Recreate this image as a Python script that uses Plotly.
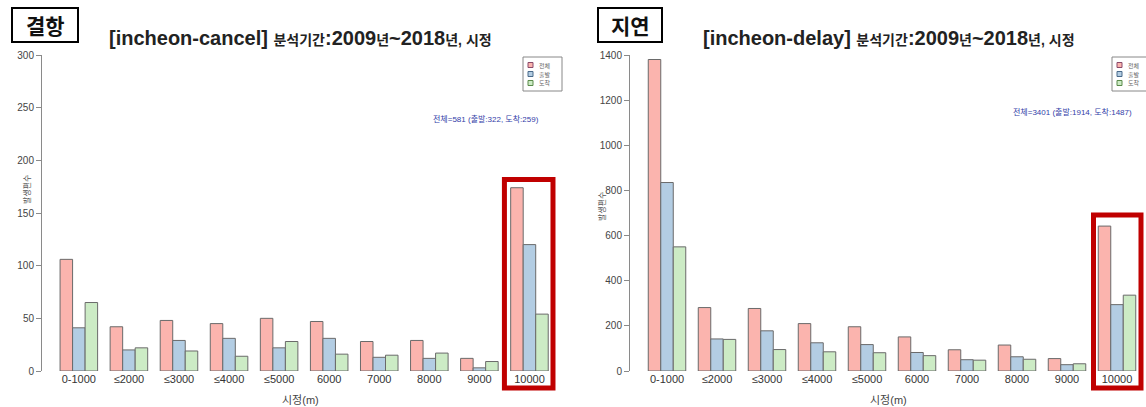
import plotly.graph_objects as go

W, H = 1146, 407

categories = ["0-1000", "≤2000", "≤3000", "≤4000", "≤5000", "6000", "7000", "8000", "9000", "10000"]
series_names = ["전체", "출발", "도착"]

cancel_total = [106, 42, 48, 45, 50, 47, 28, 29, 12, 174]
cancel_dep = [41, 20, 29, 31, 22, 31, 13, 12, 3, 120]
cancel_arr = [65, 22, 19, 14, 28, 16, 15, 17, 9, 54]

delay_total = [1380, 281, 277, 210, 196, 151, 94, 115, 55, 642]
delay_dep = [835, 142, 178, 125, 117, 82, 50, 63, 28, 294]
delay_arr = [550, 140, 95, 85, 81, 68, 48, 52, 32, 336]

left_ticks = [0, 50, 100, 150, 200, 250, 300]
right_ticks = [0, 200, 400, 600, 800, 1000, 1200, 1400]

colors = ["#FBB4AE", "#B3CDE3", "#CCEBC5"]
FONT = "Liberation Sans, Noto Sans CJK KR, sans-serif"
KFONT = "Noto Sans CJK KR, Liberation Sans, sans-serif"


def px(x):
    return x / W


def py(y):
    return 1 - y / H


fig = go.Figure()
for vals, name, c in zip([cancel_total, cancel_dep, cancel_arr], series_names, colors):
    fig.add_trace(go.Bar(x=categories, y=vals, name=name, marker=dict(color=c, line=dict(color="#6a6a6a", width=1)),
                         xaxis="x", yaxis="y", showlegend=False))
for vals, name, c in zip([delay_total, delay_dep, delay_arr], series_names, colors):
    fig.add_trace(go.Bar(x=categories, y=vals, name=name, marker=dict(color=c, line=dict(color="#6a6a6a", width=1)),
                         xaxis="x2", yaxis="y2", showlegend=False))

y_dom = [py(371), py(55)]
common_x = dict(type="category", categoryorder="array", categoryarray=categories, showline=False, automargin=False,
                showgrid=False, zeroline=False, ticks="", tickfont=dict(family=FONT, size=11, color="#333"))
common_y = dict(showline=True, linecolor="#8a8a8a", linewidth=1, ticks="outside", ticklen=5, tickcolor="#8a8a8a",
                automargin=False, showgrid=False, zeroline=False,
                tickfont=dict(family=FONT, size=10, color="#444"), domain=y_dom)

fig.update_layout(
    width=W, height=H, margin=dict(l=0, r=0, t=0, b=0, pad=0, autoexpand=False),
    paper_bgcolor="white", plot_bgcolor="white",
    barmode="group", bargap=0.25, bargroupgap=0,
    xaxis=dict(domain=[px(42), px(562)], range=[-0.736, 9.65], anchor="y", **common_x),
    yaxis=dict(range=[0, 300], tickvals=left_ticks, anchor="x", **common_y),
    xaxis2=dict(domain=[px(630), 1], range=[-0.74, 9.58], anchor="y2", **common_x),
    yaxis2=dict(range=[0, 1400], tickvals=right_ticks, anchor="x2", **common_y),
)

shapes = []
annotations = []

# panel label boxes
for (x0, x1, label) in [(12, 78, "결항"), (598, 662, "지연")]:
    shapes.append(dict(type="rect", xref="paper", yref="paper", x0=px(x0), x1=px(x1), y0=py(42), y1=py(8),
                       line=dict(color="black", width=2), fillcolor="white"))
    annotations.append(dict(xref="paper", yref="paper", x=px((x0 + x1) / 2), y=py(25), text="<b>" + label + "</b>",
                            showarrow=False, font=dict(family=KFONT, size=21, color="#111"),
                            xanchor="center", yanchor="middle"))


# titles
def title_text(name):
    big = "font-size:20px"
    small = "font-size:14px"
    return (f"<b><span style='{big}'>[{name}] </span><span style='{small}'>분석기간</span>"
            f"<span style='{big}'>:2009</span><span style='{small}'>년</span>"
            f"<span style='{big}'>~2018</span><span style='{small}'>년, 시정</span></b>")


annotations.append(dict(xref="paper", yref="paper", x=px(300), y=py(38), text=title_text("incheon-cancel"),
                        showarrow=False, font=dict(family=FONT, size=20, color="#222"),
                        xanchor="center", yanchor="middle"))
annotations.append(dict(xref="paper", yref="paper", x=px(889), y=py(38), text=title_text("incheon-delay"),
                        showarrow=False, font=dict(family=FONT, size=20, color="#222"),
                        xanchor="center", yanchor="middle"))

# stats text
annotations.append(dict(xref="paper", yref="paper", x=px(486), y=py(119),
                        text=f"전체={sum(cancel_total)} (출발:{sum(cancel_dep)}, 도착:{sum(cancel_arr)})",
                        showarrow=False, font=dict(family=FONT, size=8, color="#3340a8"),
                        xanchor="center", yanchor="middle"))
annotations.append(dict(xref="paper", yref="paper", x=px(1072), y=py(112),
                        text=f"전체={sum(delay_total)} (출발:{sum(delay_dep)}, 도착:{sum(delay_arr)})",
                        showarrow=False, font=dict(family=FONT, size=8, color="#3340a8"),
                        xanchor="center", yanchor="middle"))

# axis titles
for (x, y) in [(300, 400), (888, 400)]:
    annotations.append(dict(xref="paper", yref="paper", x=px(x), y=py(y), text="시정(m)", showarrow=False,
                            font=dict(family=FONT, size=11, color="#444"), xanchor="center", yanchor="middle"))
for (x, y) in [(26, 190), (601, 207)]:
    annotations.append(dict(xref="paper", yref="paper", x=px(x), y=py(y), text="발생편수", showarrow=False,
                            textangle=-90, font=dict(family=KFONT, size=8, color="#555"),
                            xanchor="center", yanchor="middle"))

# legends (small boxes)
edge = ["#8a4a6a", "#4a6a8a", "#5a8a4a"]
for (bx0, bx1) in [(523, 562), (1112, 1152)]:
    shapes.append(dict(type="rect", xref="paper", yref="paper", x0=px(bx0), x1=px(bx1), y0=py(91), y1=py(57),
                       line=dict(color="#888", width=1), fillcolor="white"))
    for i, (name, c) in enumerate(zip(series_names, colors)):
        yc = 65 + i * 9
        shapes.append(dict(type="rect", xref="paper", yref="paper", x0=px(bx0 + 5), x1=px(bx0 + 10),
                           y0=py(yc + 2.5), y1=py(yc - 2.5), line=dict(color=edge[i], width=1), fillcolor=c))
        annotations.append(dict(xref="paper", yref="paper", x=px(bx0 + 14), y=py(yc), text=name, showarrow=False,
                                font=dict(family=KFONT, size=6, color="#666"), xanchor="left", yanchor="middle"))

# red highlight boxes around the 10000 group
shapes.append(dict(type="rect", xref="x", yref="paper", x0=8.50, x1=9.47, y0=py(388), y1=py(179.5),
                   line=dict(color="#C00000", width=5), layer="above"))
shapes.append(dict(type="rect", xref="x2", yref="paper", x0=8.53, x1=9.48, y0=py(388), y1=py(215),
                   line=dict(color="#C00000", width=5), layer="above"))

fig.update_layout(shapes=shapes, annotations=annotations)
fig.write_html("out.html", config={"displayModeBar": False},
               post_script="document.body.style.margin='0px';document.body.style.overflow='hidden';")
